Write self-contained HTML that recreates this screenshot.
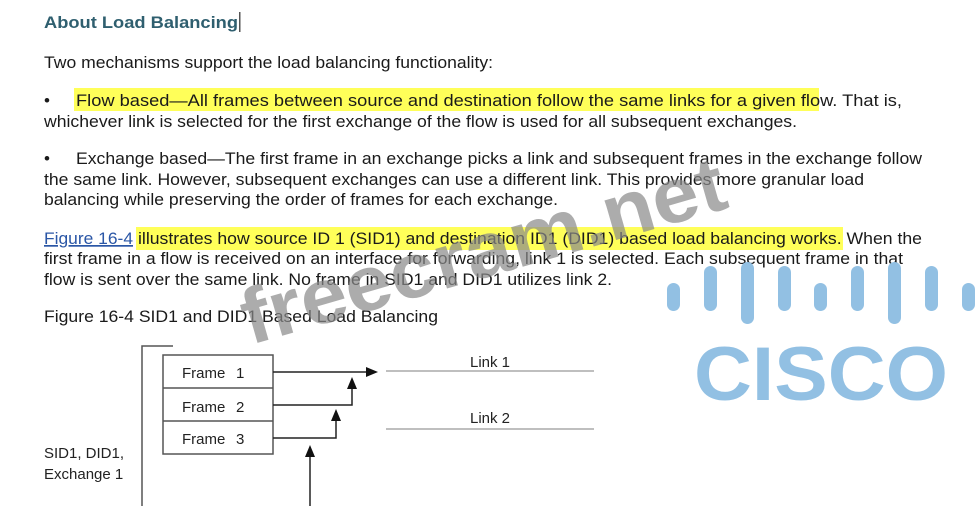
<!DOCTYPE html>
<html><head><meta charset="utf-8"><style>html,body{margin:0;padding:0;background:#fff}svg{display:block}</style></head>
<body>
<svg width="980" height="506" viewBox="0 0 980 506" xmlns="http://www.w3.org/2000/svg" font-family="Liberation Sans, Arial, sans-serif">
<rect width="980" height="506" fill="#fff"/>
<rect x="74" y="88" width="745" height="23" fill="#ffff3c" opacity="0.85"/>
<rect x="136" y="227" width="707" height="23" fill="#ffff3c" opacity="0.85"/>
<g fill="#1a1a1a" font-size="17">
<text x="44" y="28" font-weight="bold" fill="#2f5f6f" textLength="194" lengthAdjust="spacingAndGlyphs">About Load Balancing</text>
<rect x="239" y="12" width="1.5" height="20" fill="#555"/>
<text x="44" y="68" textLength="449" lengthAdjust="spacingAndGlyphs">Two mechanisms support the load balancing functionality:</text>
<text x="44" y="106">•</text>
<text x="76" y="106" textLength="826" lengthAdjust="spacingAndGlyphs">Flow based—All frames between source and destination follow the same links for a given flow. That is,</text>
<text x="44" y="127" textLength="753" lengthAdjust="spacingAndGlyphs">whichever link is selected for the first exchange of the flow is used for all subsequent exchanges.</text>
<text x="44" y="164">•</text>
<text x="76" y="164" textLength="846" lengthAdjust="spacingAndGlyphs">Exchange based—The first frame in an exchange picks a link and subsequent frames in the exchange follow</text>
<text x="44" y="185" textLength="820" lengthAdjust="spacingAndGlyphs">the same link. However, subsequent exchanges can use a different link. This provides more granular load</text>
<text x="44" y="205" textLength="514" lengthAdjust="spacingAndGlyphs">balancing while preserving the order of frames for each exchange.</text>
<text x="44" y="244" fill="#2a56a6" text-decoration="underline" textLength="89" lengthAdjust="spacingAndGlyphs">Figure 16-4</text>
<text x="138" y="244" textLength="784" lengthAdjust="spacingAndGlyphs">illustrates how source ID 1 (SID1) and destination ID1 (DID1) based load balancing works. When the</text>
<text x="44" y="264" textLength="859" lengthAdjust="spacingAndGlyphs">first frame in a flow is received on an interface for forwarding, link 1 is selected. Each subsequent frame in that</text>
<text x="44" y="285" textLength="568" lengthAdjust="spacingAndGlyphs">flow is sent over the same link. No frame in SID1 and DID1 utilizes link 2.</text>
<text x="44" y="322" textLength="394" lengthAdjust="spacingAndGlyphs">Figure 16-4 SID1 and DID1 Based Load Balancing</text>
</g>
<g fill="#92c0e3">
<rect x="667" y="283" width="13" height="28" rx="6.5"/>
<rect x="704" y="266" width="13" height="45" rx="6.5"/>
<rect x="741" y="262" width="13" height="62" rx="6.5"/>
<rect x="778" y="266" width="13" height="45" rx="6.5"/>
<rect x="814" y="283" width="13" height="28" rx="6.5"/>
<rect x="851" y="266" width="13" height="45" rx="6.5"/>
<rect x="888" y="262" width="13" height="62" rx="6.5"/>
<rect x="925" y="266" width="13" height="45" rx="6.5"/>
<rect x="962" y="283" width="13" height="28" rx="6.5"/>
<text x="694" y="400" font-size="76" font-weight="bold" textLength="254" lengthAdjust="spacingAndGlyphs">CISCO</text>
</g>
<g stroke="#555" fill="none" stroke-width="1.5">
<path d="M142 506 V346 H173"/>
<rect x="163" y="355" width="110" height="99"/>
<line x1="163" y1="388" x2="273" y2="388"/>
<line x1="163" y1="421" x2="273" y2="421"/>
<path d="M273 372 H368" stroke="#222"/>
<path d="M273 405 H352 V384" stroke="#222"/>
<path d="M273 438 H336 V416" stroke="#222"/>
<path d="M310 506 V452" stroke="#222"/>
<line x1="386" y1="371" x2="594" y2="371" stroke="#aaa"/>
<line x1="386" y1="429" x2="594" y2="429" stroke="#aaa"/>
</g>
<g fill="#111">
<path d="M378 372 L366 367 L366 377 Z"/>
<path d="M352 377 L347 389 L357 389 Z"/>
<path d="M336 409 L331 421 L341 421 Z"/>
<path d="M310 445 L305 457 L315 457 Z"/>
</g>
<g font-size="15" fill="#222">
<text x="182" y="378">Frame</text><text x="236" y="378">1</text>
<text x="182" y="412">Frame</text><text x="236" y="412">2</text>
<text x="182" y="444">Frame</text><text x="236" y="444">3</text>
<text x="470" y="367">Link 1</text>
<text x="470" y="423">Link 2</text>
<text x="44" y="458">SID1, DID1,</text>
<text x="44" y="479">Exchange 1</text>
</g>
<text x="250" y="345" transform="rotate(-16 250 345)" font-size="78" font-weight="bold" fill="#8a8a8a" opacity="0.7" textLength="500" lengthAdjust="spacingAndGlyphs">freecram.net</text>
</svg>
</body></html>
